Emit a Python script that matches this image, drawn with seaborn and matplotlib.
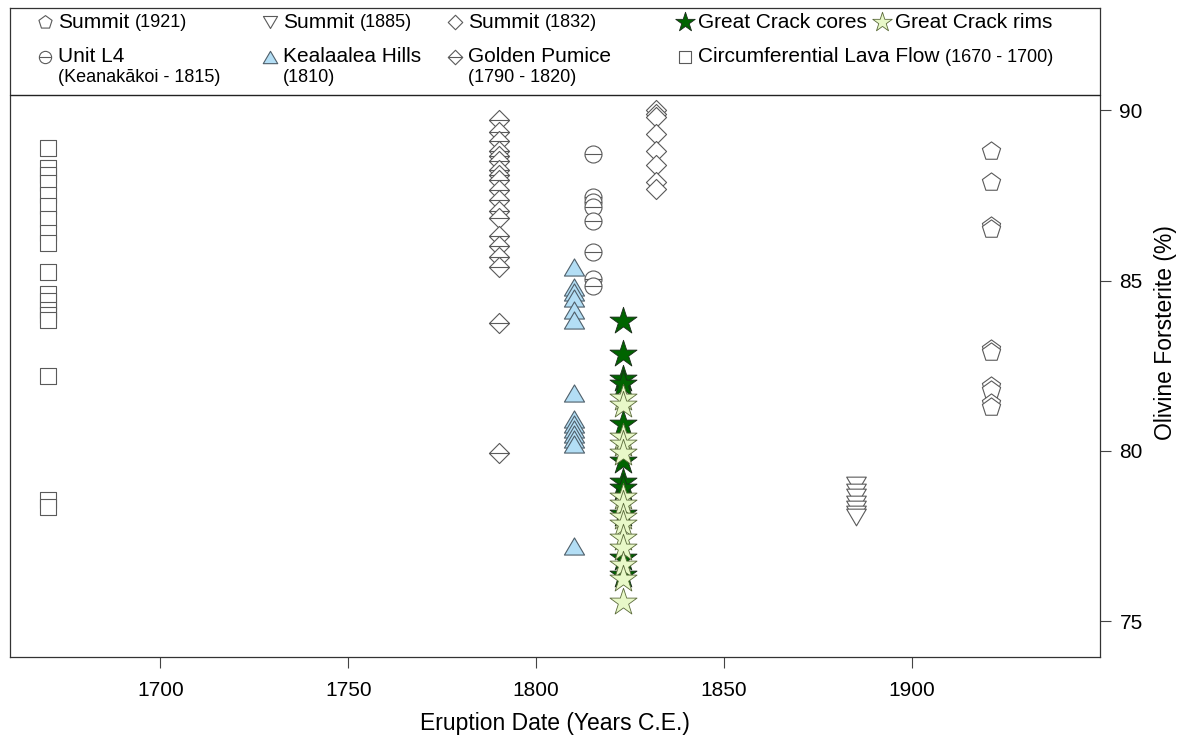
import numpy as np
import pandas as pd
import matplotlib
matplotlib.use("Agg")
import matplotlib.pyplot as plt
import seaborn as sns
from matplotlib.path import Path
from matplotlib.legend import Legend

# ---------------- data ----------------
year_circ = 1670
circ_flow = [88.9, 88.3, 88.1, 87.85, 87.5, 87.2, 86.8, 86.4, 86.1, 85.25,
             84.6, 84.4, 84.15, 84.0, 83.85, 82.2, 78.55, 78.35]
year_golden = 1790
golden_pumice = [89.7, 89.35, 89.1, 88.8, 88.65, 88.5, 88.25, 88.1, 87.95, 87.65,
                 87.35, 87.05, 86.85, 86.3, 86.0, 85.7, 85.4, 83.75, 79.95]
year_keal = 1810
kealaalea = [85.4, 84.8, 84.65, 84.5, 84.15, 83.85, 81.7, 80.95, 80.8, 80.65,
             80.5, 80.35, 80.2, 77.2]
year_l4 = 1815
unit_l4 = [88.7, 87.45, 87.3, 87.15, 86.75, 85.85, 85.05, 84.85]
year_gc = 1823
gc_cores = [83.8, 82.85, 82.1, 81.95, 80.8, 79.7, 79.1, 78.9, 78.15, 76.85, 76.35]
gc_rims = [81.55, 81.35, 80.4, 80.2, 79.95, 78.65, 78.45, 78.05, 77.85, 77.45,
           77.15, 76.65, 76.25, 75.55]
year_s1832 = 1832
summit_1832 = [90.0, 89.9, 89.8, 89.3, 88.8, 88.4, 87.9, 87.7]
year_s1885 = 1885
summit_1885 = [79.0, 78.8, 78.65, 78.45, 78.3, 78.15, 78.05]
year_s1921 = 1921
summit_1921 = [88.8, 87.9, 86.6, 86.5, 83.0, 82.9, 81.9, 81.8, 81.4, 81.3]

x_ticks = [1700, 1750, 1800, 1850, 1900]
y_ticks = [75, 80, 85, 90]

# ---------------- style ----------------
sns.set_style("ticks")
plt.rcParams['font.family'] = ['Liberation Sans', 'DejaVu Sans']
plt.rcParams['text.color'] = 'black'
plt.rcParams['axes.labelcolor'] = 'black'
plt.rcParams['xtick.color'] = '#444444'
plt.rcParams['ytick.color'] = '#444444'
plt.rcParams['xtick.labelcolor'] = 'black'
plt.rcParams['ytick.labelcolor'] = 'black'

# custom markers
diamond_line = Path.make_compound_path(
    Path([[0, 1], [1, 0], [0, -1], [-1, 0], [0, 1]], closed=True),
    Path([[-1, 0], [1, 0]], [Path.MOVETO, Path.LINETO]))
diamond = Path([[0, 1], [1, 0], [0, -1], [-1, 0], [0, 1]], closed=True)
circle_line = Path.make_compound_path(
    Path.unit_circle(),
    Path([[-1, 0], [1, 0]], [Path.MOVETO, Path.LINETO]))
tri_up = Path([[0, 0.85], [1, -0.85], [-1, -0.85], [0, 0.85]], closed=True)
tri_down = Path([[0, -0.85], [1, 0.85], [-1, 0.85], [0, -0.85]], closed=True)

fig = plt.figure(figsize=(11.84, 7.40), dpi=100)
L, R, T, B = 10, 1100, 8, 657
W, H = 1184, 740
ax = fig.add_axes([L / W, (H - B) / H, (R - L) / W, (B - T) / H])

grey = '#5a5a5a'

def series(year, vals):
    return pd.DataFrame({'year': [year] * len(vals), 'fo': vals})

handles = {}

def draw(key, year, vals, marker, s, fc, ec, lw=0.8):
    sns.scatterplot(data=series(year, vals), x='year', y='fo', ax=ax,
                    marker=marker, s=s, color=fc, edgecolor=ec,
                    linewidth=lw, legend=False, zorder=3)
    handles[key] = ax.collections[-1]

draw('circ', year_circ, circ_flow, 's', 135, 'white', grey)
draw('golden', year_golden, golden_pumice, diamond_line, 210, 'white', grey)
draw('keal', year_keal, kealaalea, tri_up, 210, '#b3def5', '#4f5f6a')
draw('l4', year_l4, unit_l4, circle_line, 150, 'white', grey)
draw('s1832', year_s1832, summit_1832, diamond, 210, 'white', grey)
draw('s1885', year_s1885, summit_1885, tri_down, 200, 'white', grey)
draw('s1921', year_s1921, summit_1921, 'p', 190, 'white', grey)
draw('cores', year_gc, gc_cores, '*', 420, '#006400', '#1a2a1a', 0.6)
draw('rims', year_gc, gc_rims, '*', 420, '#e8f8c8', '#5a6a3a', 0.6)

ax.set_xlim(1660, 1950)
ax.set_ylim(73.95, 93.0)
ax.set_xticks(x_ticks)
ax.set_yticks(y_ticks)
ax.yaxis.tick_right()
ax.yaxis.set_label_position('right')
ax.tick_params(axis='both', labelsize=15, length=8, width=0.8,
               direction='out', pad=6)
ax.tick_params(axis='x', pad=9)
ax.set_xlabel('Eruption Date (Years C.E.)', fontsize=16.5, labelpad=9)
ax.set_ylabel('Olivine Forsterite (%)', fontsize=16.5, labelpad=8)
for sp in ax.spines.values():
    sp.set_visible(True)
    sp.set_color('#333333')
    sp.set_linewidth(0.9)

# separator line of the legend box
sep_y = (B - 95) / (B - T)
ax.plot([0, 1], [sep_y, sep_y], transform=ax.transAxes, color='#222222',
        lw=1.0, zorder=4, clip_on=False)

# ---------------- legend ----------------
FS, FS_S = 15, 13
em = FS * 100 / 72
HL, TP = 0.8, 0.23

def entry(key, label, mx, my, small=None, below=None):
    left = mx - 0.5 * HL * em
    bx = (left - L) / (R - L)
    by = (B - my) / (B - T)
    leg = Legend(ax, [handles[key]], [label], loc='center left',
                 bbox_to_anchor=(bx, by), bbox_transform=ax.transAxes,
                 frameon=False, borderpad=0, borderaxespad=0,
                 handlelength=HL, handletextpad=TP, fontsize=FS,
                 markerscale=0.72, scatterpoints=1)
    leg.set_zorder(5)
    ax.add_artist(leg)
    txt = leg.get_texts()[0]
    if small:
        ax.annotate(small, xy=(1, 0), xycoords=txt, xytext=(4, 0.6),
                    textcoords='offset points', ha='left', va='bottom',
                    fontsize=FS_S, zorder=6)
    if below:
        ax.annotate(below, xy=(0, 0), xycoords=txt, xytext=(0, -1.5),
                    textcoords='offset points', ha='left', va='top',
                    fontsize=FS_S, zorder=6)

entry('s1921', 'Summit', 45, 22, small='(1921)')
entry('l4', 'Unit L4', 45, 57, below='(Keanakākoi - 1815)')
entry('s1885', 'Summit', 270, 22, small='(1885)')
entry('keal', 'Kealaalea Hills', 270, 57, below='(1810)')
entry('s1832', 'Summit', 455, 22, small='(1832)')
entry('golden', 'Golden Pumice', 455, 57, below='(1790 - 1820)')
entry('cores', 'Great Crack cores', 685, 22)
entry('rims', 'Great Crack rims', 882, 22)
entry('circ', 'Circumferential Lava Flow', 685, 57, small='(1670 - 1700)')

fig.canvas.draw()
fig.savefig('out.png', dpi=100)
